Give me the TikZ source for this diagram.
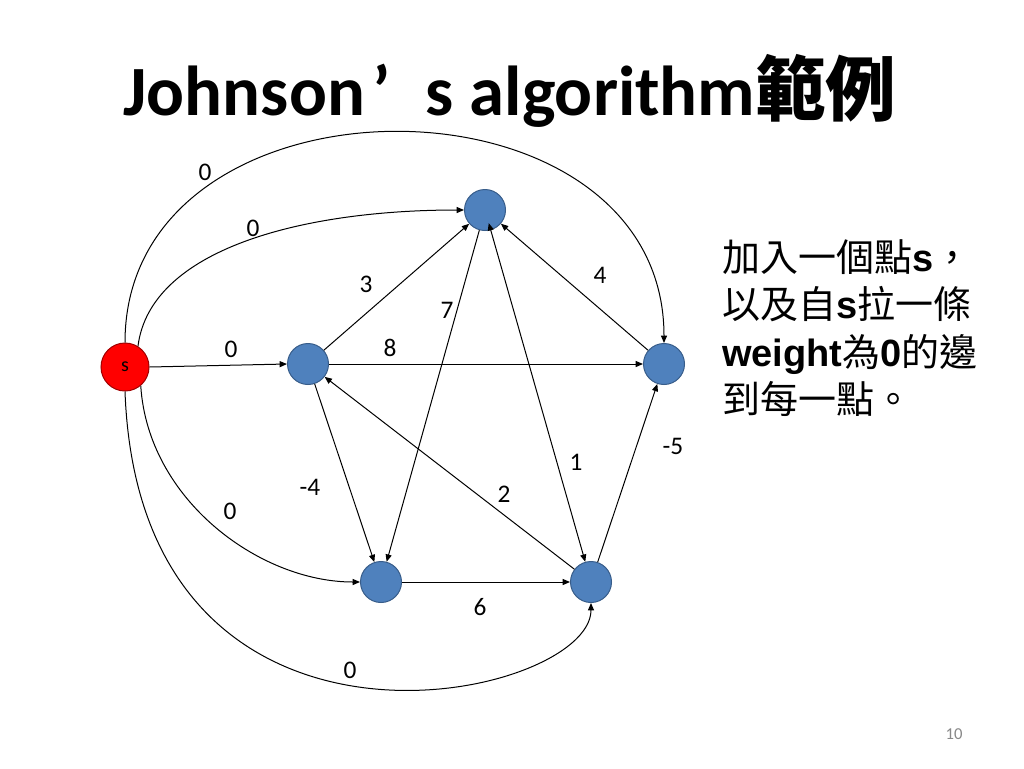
\documentclass[tikz,border=0pt]{standalone}
\usepackage{fontspec}
\setmainfont{Carlito}
\newfontfamily\cjk{Noto Sans CJK TC}
\newfontfamily\lsans{Liberation Sans}
\usetikzlibrary{arrows.meta}
\definecolor{bluefill}{HTML}{4F81BD}
\definecolor{blueborder}{HTML}{385D8A}
\definecolor{redfill}{HTML}{FF0000}
\definecolor{redborder}{HTML}{A00000}
\definecolor{pagegray}{HTML}{888888}
\begin{document}
\begin{tikzpicture}[x=0.75pt,y=-0.75pt,
  vtx/.style={circle, draw=blueborder, fill=bluefill, line width=0.75pt, minimum size=30.75pt, inner sep=0pt},
  src/.style={circle, draw=redborder, fill=redfill, line width=0.75pt, minimum size=36pt, inner sep=0pt, font=\fontsize{15}{18}\selectfont},
  ed/.style={-{Triangle[length=5.5pt,width=4.5pt]}, line width=0.75pt},
  lbl/.style={font=\fontsize{19}{22}\selectfont, inner sep=0pt},
  side/.style={anchor=base west, inner sep=0pt, font=\fontsize{28.5}{34}\selectfont}
]
\fill[white] (0,0) rectangle (1024,768);
\useasboundingbox (0,0) rectangle (1024,768);

% title
\node[anchor=base, inner sep=0pt, font=\fontsize{53}{64}\selectfont\bfseries] (title) at (510,115)
  {Johnson\hspace{0.1em}’\hspace{0.5em}s algorithm{\cjk\bfseries 範例}};

% vertices
\node[src] (s) at (125,367) {s};
\node[vtx] (A) at (485,210) {};
\node[vtx] (B) at (308,364) {};
\node[vtx] (C) at (664,364) {};
\node[vtx] (D) at (381,582) {};
\node[vtx] (E) at (591,582) {};

% edges from s
\draw[ed] (s.north) .. controls (125,62) and (664,62) .. (C.north);
\draw[ed] (s.58) .. controls (150,250) and (300,210) .. (A.west);
\draw[ed] (s.east) -- (B.west);
\draw[ed] (s.-50) .. controls (148,500) and (260,582) .. (D.west);
\draw[ed] (s.south) .. controls (140,800) and (591,700) .. (E.south);

% graph edges
\draw[ed] (B) -- (A);
\draw[ed] (B) -- (C);
\draw[ed] (C) -- (A);
\draw[ed] (A) -- (D);
\draw[ed, {Triangle[length=5.5pt,width=4.5pt]}-{Triangle[length=5.5pt,width=4.5pt]}, shorten <=-5.5pt] (A) -- (E);
\draw[ed] (B) -- (D);
\draw[ed] (E) -- (B);
\draw[ed] (E) -- (C);
\draw[ed] (D) -- (E);

% labels
\node[lbl] (w1) at (205,172) {0};
\node[lbl] (w2) at (253,228) {0};
\node[lbl] (w3) at (231,349) {0};
\node[lbl] (w4) at (366,284) {3};
\node[lbl] (w5) at (447,310) {7};
\node[lbl] (w6) at (390,348) {8};
\node[lbl] (w7) at (600,275) {4};
\node[lbl] (w8) at (673,446) {-5};
\node[lbl] (w9) at (576,462) {1};
\node[lbl] (w10) at (310,487) {-4};
\node[lbl] (w11) at (504,494) {2};
\node[lbl] (w12) at (230,511) {0};
\node[lbl] (w13) at (480,607) {6};
\node[lbl] (w14) at (350,670) {0};

% side text
\node[side] (t1) at (722,271) {\cjk 加入一個點{\lsans\bfseries s}，};
\node[side] (t2) at (722,318) {\cjk 以及自{\lsans\bfseries s}拉一條};
\node[side] (t3) at (722,366) {{\lsans\bfseries weight}\cjk 為{\lsans\bfseries 0}的邊};
\node[side] (t4) at (722,413) {\cjk 到每一點。};

% page number
\node[inner sep=0pt, text=pagegray, font=\fontsize{12.5}{15}\selectfont] (pg) at (954,734) {10};
\end{tikzpicture}
\end{document}
